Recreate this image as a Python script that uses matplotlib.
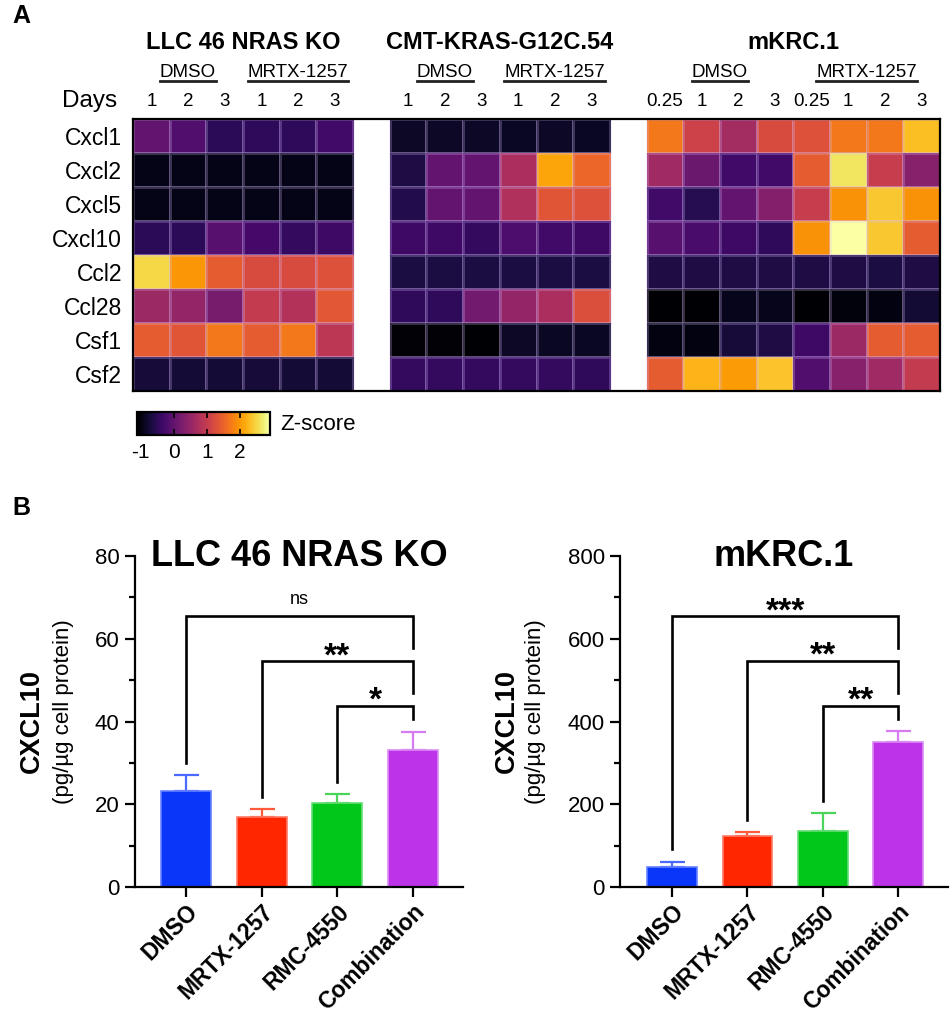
import numpy as np
import matplotlib
matplotlib.use('Agg')
import matplotlib.pyplot as plt
from matplotlib.colors import Normalize
from matplotlib.cm import ScalarMappable
from matplotlib.lines import Line2D

plt.rcParams['font.family'] = ['Liberation Sans', 'DejaVu Sans']
plt.rcParams['axes.unicode_minus'] = False

# ---------------- data ----------------
genes = ['Cxcl1', 'Cxcl2', 'Cxcl5', 'Cxcl10', 'Ccl2', 'Ccl28', 'Csf1', 'Csf2']
cell_lines = ['LLC 46 NRAS KO', 'CMT-KRAS-G12C.54', 'mKRC.1']
treatments = ['DMSO', 'MRTX-1257']
days_llc = ['1', '2', '3', '1', '2', '3']
days_cmt = ['1', '2', '3', '1', '2', '3']
days_mkrc = ['0.25', '1', '2', '3', '0.25', '1', '2', '3']

z_llc = [
    [0.12, -0.04, -0.40, -0.36, -0.36, -0.20],
    [-0.84, -0.84, -0.84, -0.84, -0.84, -0.84],
    [-0.84, -0.84, -0.84, -0.84, -0.84, -0.84],
    [-0.40, -0.40, 0.00, -0.16, -0.32, -0.24],
    [2.60, 2.08, 1.52, 1.32, 1.32, 1.40],
    [0.68, 0.60, 0.32, 1.08, 0.92, 1.48],
    [1.52, 1.44, 1.80, 1.52, 1.80, 1.00],
    [-0.60, -0.62, -0.62, -0.60, -0.62, -0.62],
]
z_cmt = [
    [-0.72, -0.72, -0.72, -0.76, -0.72, -0.76],
    [-0.52, 0.12, 0.12, 0.84, 2.20, 1.64],
    [-0.48, 0.12, 0.12, 0.88, 1.44, 1.40],
    [-0.24, -0.24, -0.32, -0.08, -0.20, -0.24],
    [-0.56, -0.56, -0.56, -0.56, -0.56, -0.56],
    [-0.36, -0.36, 0.28, 0.60, 0.84, 1.36],
    [-0.96, -0.96, -1.00, -0.72, -0.76, -0.76],
    [-0.32, -0.32, -0.32, -0.32, -0.32, -0.36],
]
z_mkrc = [
    [1.80, 1.20, 0.76, 1.32, 1.40, 1.80, 1.80, 2.40],
    [0.72, 0.20, -0.20, -0.20, 1.52, 2.72, 1.12, 0.48],
    [-0.20, -0.44, 0.12, 0.44, 1.12, 2.04, 2.48, 2.04],
    [0.00, -0.12, -0.24, -0.36, 2.04, 3.00, 2.48, 1.52],
    [-0.52, -0.52, -0.52, -0.52, -0.52, -0.52, -0.56, -0.52],
    [-1.00, -1.00, -0.80, -0.80, -1.00, -0.92, -0.88, -0.64],
    [-0.88, -0.88, -0.60, -0.52, -0.24, 0.68, 1.52, 1.52],
    [1.52, 2.32, 2.12, 2.44, -0.04, 0.48, 0.72, 1.08],
]
z_ticks = [-1, 0, 1, 2]

bar_groups = ['DMSO', 'MRTX-1257', 'RMC-4550', 'Combination']
bar_colors = ['#0A36FA', '#FF2600', '#00C81A', '#BC33E8']
bar_edges = ['#6680FF', '#FF7A66', '#66DD77', '#DA8CF2']
err_colors = ['#4A6AFF', '#FF5A3A', '#4AD45A', '#D47CF0']

llc_mean = [23.3, 17.0, 20.4, 33.1]
llc_err = [3.7, 1.8, 2.1, 4.3]
llc_sig = [  # (from, to, label, bracket top, left leg end, right leg end)
    (0, 3, 'ns', 65.5, 30.0, 57.7),
    (1, 3, '**', 54.6, 21.8, 46.9),
    (2, 3, '*', 43.8, 25.4, 40.6),
]
mkrc_mean = [49, 123, 136, 350]
mkrc_err = [12, 10, 43, 27]
mkrc_sig = [
    (0, 3, '***', 655, 92, 577),
    (1, 3, '**', 547, 162, 470),
    (2, 3, '**', 438, 208, 406),
]

# ---------------- figure ----------------
W, H = 953, 1017
fig = plt.figure(figsize=(W / 100, H / 100), dpi=100)


def fx(px):
    return px / W


def fy(py):
    return 1 - py / H


# ---------------- heatmap ----------------
axh = fig.add_axes([fx(133), fy(391), fx(940 - 133), 272 / H])
cmap = plt.get_cmap('inferno')
norm = Normalize(-1.1, 2.9)
blocks = [np.array(z_llc), np.array(z_cmt), np.array(z_mkrc)]
day_sets = [days_llc, days_cmt, days_mkrc]
x0 = 0
starts = []
for b in blocks:
    n = b.shape[1]
    xs = np.arange(x0, x0 + n + 1)
    ys = np.arange(len(genes) + 1)
    axh.pcolormesh(xs, ys, b, cmap=cmap, norm=Normalize(-1, 3),
                   edgecolors=(0.85, 0.75, 1, 0.25), linewidth=0.8)
    starts.append(x0)
    x0 += n + 1
total = x0 - 1
axh.set_xlim(0, total)
axh.set_ylim(len(genes), 0)
axh.set_xticks([])
axh.set_yticks(np.arange(len(genes)) + 0.5)
axh.set_yticklabels(genes, fontsize=16.5)
axh.tick_params(axis='y', length=0, pad=8)
for s in axh.spines.values():
    s.set_linewidth(1.6)
    s.set_color('black')

tr = axh.get_xaxis_transform()
y_days = (391 - 101) / 272
y_grp = (391 - 72) / 272
y_title = (391 - 42) / 272
fig.text(fx(117), fy(101), 'Days', ha='right', va='center', fontsize=17.5)
grp_texts = []
for st, b, days, name in zip(starts, blocks, day_sets, cell_lines):
    n = b.shape[1]
    for i, d in enumerate(days):
        axh.text(st + i + 0.5, y_days, d, transform=tr, ha='center',
                 va='center', fontsize=13.5)
    half = n / 2
    for k, t in enumerate(treatments):
        t_obj = axh.text(st + half * k + half / 2, y_grp, t, transform=tr,
                         ha='center', va='center', fontsize=13.5)
        grp_texts.append(t_obj)
    axh.text(st + n / 2, y_title, name, transform=tr, ha='center',
             va='center', fontsize=17, fontweight='bold')

fig.text(fx(12), fy(16), 'A', ha='left', va='center', fontsize=18,
         fontweight='bold')

# underlines
fig.canvas.draw()
renderer = fig.canvas.get_renderer()
for t_obj in grp_texts:
    bb = t_obj.get_window_extent(renderer)
    yline = bb.y0 - 0.5
    fig.add_artist(Line2D([bb.x0 / W, bb.x1 / W], [yline / H, yline / H],
                          transform=fig.transFigure, color='#222222',
                          lw=2.0))

# colorbar
axc = fig.add_axes([fx(137), fy(435), fx(133), 23 / H])
cb = fig.colorbar(ScalarMappable(norm=norm, cmap=cmap), cax=axc,
                  orientation='horizontal')
cb.set_ticks(z_ticks)
cb.ax.tick_params(direction='in', length=4, width=1.2, top=True,
                  labelsize=15, pad=6)
cb.outline.set_linewidth(1.6)
fig.text(fx(280), fy(424), 'Z-score', ha='left', va='center', fontsize=16)

# ---------------- bar panels ----------------
fig.text(fx(12), fy(508), 'B', ha='left', va='center', fontsize=18,
         fontweight='bold')


def bar_panel(left_px, title, means, errs, ymax, major, minor, sig,
              x_left, lab1_px, lab2_px):
    ax = fig.add_axes([fx(left_px), fy(887), fx(328), 331 / H])
    x = np.arange(len(bar_groups))
    for xi, m, e, c, ec, erc in zip(x, means, errs, bar_colors, bar_edges,
                                     err_colors):
        ax.errorbar(xi, m, yerr=[[0], [e]], fmt='none', ecolor=erc,
                    elinewidth=1.6, capsize=9, capthick=1.6, zorder=1)
        ax.bar(xi, m, width=0.66, color=c, edgecolor=ec, linewidth=1.2,
               zorder=2)
    for i, j, lab, top, le, re in sig:
        ax.plot([i, i, j, j], [le, top, top, re], color='black', lw=1.9,
                solid_joinstyle='miter', zorder=3)
        if lab == 'ns':
            ax.annotate(lab, xy=((i + j) / 2, top), xytext=(0, 6),
                        textcoords='offset points', ha='center',
                        va='bottom', fontsize=13)
        else:
            ax.annotate(lab, xy=((i + j) / 2, top), xytext=(0, -3),
                        textcoords='offset points', ha='center',
                        va='baseline', fontsize=24, fontweight='bold')
    ax.set_xlim(x_left, 3.66)
    ax.set_ylim(0, ymax)
    ax.set_yticks(major)
    ax.set_yticks(minor, minor=True)
    ax.set_xticks(x)
    ax.set_xticklabels(bar_groups, rotation=45, ha='right', va='top',
                       rotation_mode='anchor', fontsize=16.5,
                       fontweight='bold')
    ax.tick_params(axis='y', which='major', length=7, width=1.6,
                   labelsize=16, pad=4)
    ax.tick_params(axis='y', which='minor', length=4.5, width=1.6)
    ax.tick_params(axis='x', length=7.5, width=1.6, pad=2)
    for side in ['top', 'right']:
        ax.spines[side].set_visible(False)
    for side in ['left', 'bottom']:
        ax.spines[side].set_linewidth(1.6)
    ax.text(0.5, 1.0, title, transform=ax.transAxes, ha='center',
            va='center', fontsize=26, fontweight='bold')
    fig.text(fx(lab1_px), fy(721), 'CXCL10', rotation=90, ha='center',
             va='center', fontsize=19.5, fontweight='bold')
    fig.text(fx(lab2_px), fy(712), '(pg/µg cell protein)', rotation=90,
             ha='center', va='center', fontsize=16)
    return ax


bar_panel(135, 'LLC 46 NRAS KO', llc_mean, llc_err, 80,
          [0, 20, 40, 60, 80], [10, 30, 50, 70], llc_sig, -0.675, 32, 64)
bar_panel(620, 'mKRC.1', mkrc_mean, mkrc_err, 800,
          [0, 200, 400, 600, 800], [100, 300, 500, 700], mkrc_sig, -0.69,
          507, 536)

fig.savefig('out.png', dpi=100)
